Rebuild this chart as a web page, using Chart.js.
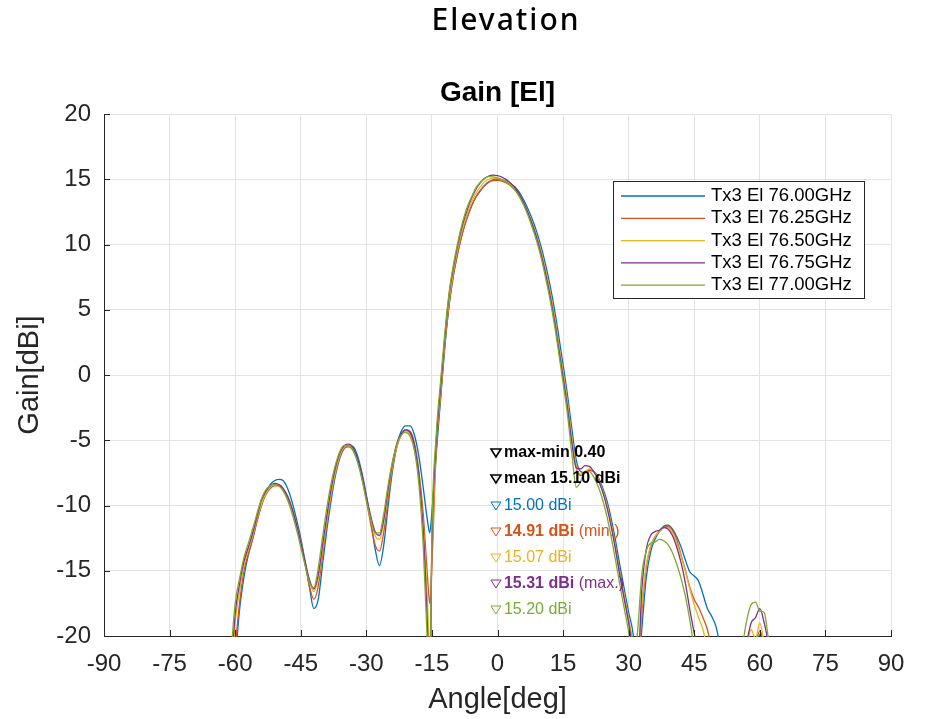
<!DOCTYPE html>
<html>
<head>
<meta charset="utf-8">
<title>Elevation</title>
<script src="https://cdn.jsdelivr.net/npm/chart.js@4.4.1/dist/chart.umd.min.js"></script>
<style>
  html, body { margin: 0; padding: 0; background: #fff; }
</style>
</head>
<body>
<canvas id="gainChart" width="928" height="719"></canvas>
<script>
// measured elevation cut, one array per frequency (null = below the plot)
const angles = [
  -61, -60, -59, -58, -57, -56, -55, -54, -53, -52,
  -51, -50, -49, -48, -47, -46, -45, -44, -43, -42,
  -41, -40, -39, -38, -37, -36, -35, -34, -33, -32,
  -31, -30, -29, -28, -27, -26, -25, -24, -23, -22,
  -21, -20, -19, -18, -17, -16, -15.5,
  -15, -14, -13, -12, -11, -10, -9, -8, -7, -6,
  -5, -4, -3, -2, -1, 0, 1, 2, 3, 4,
  5, 6, 7, 8, 9, 10, 11, 12, 13, 14,
  15, 16, 17, 18, 19, 20, 21, 22, 23, 24,
  25, 26, 27, 28, 29, 30, 31, 32, 33, 34,
  35, 36, 37, 38, 39, 40, 41, 42, 43, 44,
  45, 46, 47, 48, 49, 50, 51, 52, 53, 54,
  55, 56, 57, 58, 59, 60, 61, 62, 63
];

const gain7600 = [
  null, -22.0, -18.0, -15.5, -13.8, -12.6, -11.2, -10.0, -9.0, -8.4,
  -8.1, -8.0, -8.1, -8.7, -9.7, -11.0, -12.5, -14.3, -16.3, -17.9,
  -17.2, -14.5, -11.8, -9.5, -7.6, -6.3, -5.6, -5.4, -5.5, -6.2,
  -7.5, -9.2, -11.2, -13.3, -14.6, -13.0, -10.0, -7.3, -5.4, -4.3,
  -3.9, -3.9, -4.6, -6.2, -8.6, -11.2, -12.1,
  -10.5, -6.0, -1.8, 2.3, 5.5, 7.8, 9.5, 10.9, 12.0, 12.9,
  13.6, 14.1, 14.5, 14.8, 14.95, 15.0, 14.97, 14.85, 14.65, 14.4,
  14.0, 13.4, 12.7, 11.9, 10.95, 9.8, 8.45, 6.9, 5.1, 3.0,
  0.8, -1.5, -4.1, -6.5, -7.4, -7.5, -7.3, -7.4, -7.8, -8.6,
  -9.6, -11.0, -12.7, -14.6, -16.4, -18.2, -19.8, -23.5, -19.5, -15.6,
  -13.6, -12.6, -12.0, -11.6, -11.5, -11.8, -12.4, -13.2, -14.2, -15.1,
  -15.4, -15.8, -16.8, -17.9, -18.5, -19.3, -21.0, null, null, null,
  null, null, null, null, -21.0, -19.9, -21.0, null, null
];

const gain7625 = [
  -26.0, -21.0, -17.5, -15.0, -13.7, -12.5, -11.2, -10.0, -9.2, -8.7,
  -8.5, -8.5, -8.8, -9.4, -10.3, -11.5, -12.9, -14.5, -16.2, -17.2,
  -16.2, -13.8, -11.3, -9.1, -7.4, -6.2, -5.6, -5.5, -5.8, -6.6,
  -7.9, -9.6, -11.4, -13.0, -13.5, -12.0, -9.4, -7.1, -5.5, -4.6,
  -4.2, -4.3, -5.2, -7.3, -10.6, -15.5, -17.5,
  -14.5, -5.7, -1.6, 2.5, 5.6, 7.8, 9.5, 10.9, 12.0, 12.9,
  13.6, 14.1, 14.5, 14.78, 14.9, 14.91, 14.86, 14.72, 14.5, 14.2,
  13.78, 13.15, 12.4, 11.55, 10.55, 9.35, 7.95, 6.35, 4.45, 2.25,
  0.1, -2.2, -4.9, -7.1, -7.7, -7.5, -7.3, -7.4, -7.9, -8.8,
  -9.9, -11.4, -13.2, -15.2, -17.0, -18.8, -20.7, -23.5, -18.3, -14.8,
  -13.2, -12.4, -12.0, -11.7, -11.6, -11.9, -12.6, -13.8, -15.0, -16.3,
  -17.2, -17.8, -18.6, -19.5, -21.0, null, null, null, null, null,
  null, null, null, null, -20.6, -19.6, -20.6, null, null
];

const gain7650 = [
  -24.0, -19.0, -16.6, -14.6, -13.4, -12.3, -11.0, -9.9, -9.1, -8.6,
  -8.4, -8.4, -8.7, -9.3, -10.2, -11.4, -12.8, -14.3, -15.8, -16.6,
  -15.6, -13.4, -11.1, -9.0, -7.3, -6.1, -5.5, -5.4, -5.7, -6.5,
  -7.8, -9.4, -11.0, -12.3, -12.6, -11.3, -9.0, -6.9, -5.4, -4.6,
  -4.3, -4.5, -5.5, -7.8, -11.5, -17.5, -21.5,
  -14.0, -5.3, -1.3, 2.8, 5.9, 8.1, 9.8, 11.2, 12.3, 13.2,
  13.9, 14.4, 14.8, 15.0, 15.07, 15.05, 14.98, 14.82, 14.6, 14.3,
  13.85, 13.2, 12.45, 11.6, 10.6, 9.4, 8.0, 6.4, 4.5, 2.3,
  0.2, -2.1, -4.8, -7.0, -7.6, -7.4, -7.2, -7.4, -7.9, -8.8,
  -9.9, -11.4, -13.2, -15.2, -16.9, -18.7, -20.8, -23.0, -17.8, -14.6,
  -13.1, -12.4, -12.0, -11.7, -11.7, -12.1, -12.9, -13.9, -15.1, -16.4,
  -17.6, -18.6, -19.5, -21.0, null, null, null, null, null, null,
  null, null, -21.0, -19.5, -20.2, -19.0, -20.6, null, null
];

const gain7675 = [
  -23.0, -18.3, -16.0, -14.3, -13.2, -12.1, -10.8, -9.6, -8.9, -8.5,
  -8.3, -8.4, -8.7, -9.3, -10.2, -11.4, -12.8, -14.3, -15.7, -16.4,
  -15.3, -13.0, -10.7, -8.6, -7.0, -5.9, -5.4, -5.3, -5.6, -6.4,
  -7.7, -9.3, -10.8, -12.0, -12.3, -11.0, -8.7, -6.7, -5.2, -4.5,
  -4.2, -4.4, -5.4, -7.7, -11.8, -19.5, -25.0,
  -13.0, -5.0, -0.9, 3.1, 6.3, 8.4, 10.1, 11.5, 12.6, 13.5,
  14.2, 14.7, 15.05, 15.25, 15.31, 15.27, 15.16, 14.97, 14.7, 14.35,
  13.85, 13.2, 12.4, 11.5, 10.45, 9.2, 7.75, 6.1, 4.2, 2.0,
  -0.2, -2.5, -5.2, -7.1, -7.2, -6.95, -7.0, -7.4, -8.0, -8.9,
  -10.1, -11.6, -13.4, -15.4, -17.2, -19.0, -21.2, -23.0, -16.5, -13.4,
  -12.3, -12.0, -11.9, -11.7, -11.8, -12.3, -13.2, -14.4, -16.0, -18.0,
  -19.8, -21.5, null, null, null, null, null, null, null, null,
  null, null, -20.5, -19.0, -18.6, -17.9, -19.0, -20.6, null
];

const gain7700 = [
  -21.5, -17.5, -15.6, -14.0, -12.9, -11.8, -10.6, -9.5, -8.8, -8.5,
  -8.4, -8.5, -8.9, -9.6, -10.6, -11.8, -13.2, -14.6, -15.9, -16.3,
  -14.8, -12.4, -10.1, -8.2, -6.8, -5.8, -5.4, -5.4, -5.8, -6.7,
  -8.0, -9.6, -11.0, -12.1, -12.1, -10.6, -8.4, -6.6, -5.3, -4.6,
  -4.4, -4.7, -5.8, -8.3, -13.0, -21.0, -25.0,
  -12.0, -4.5, -0.4, 3.4, 6.5, 8.6, 10.3, 11.7, 12.8, 13.6,
  14.3, 14.75, 15.05, 15.2, 15.18, 15.1, 14.97, 14.78, 14.5, 14.15,
  13.65, 13.0, 12.2, 11.25, 10.2, 8.95, 7.45, 5.8, 3.9, 1.7,
  -0.6, -3.0, -6.0, -8.6, -8.2, -7.4, -7.4, -7.8, -8.5, -9.5,
  -10.8, -12.4, -14.2, -16.1, -17.9, -19.7, -22.0, -19.8, -15.3, -13.5,
  -12.9, -12.8, -12.6, -12.7, -13.0, -13.6, -14.5, -15.6, -17.0, -18.8,
  -21.0, null, null, null, null, null, null, null, null, null,
  null, -20.8, -18.8, -17.6, -17.4, -18.1, -18.2, -20.3, null
];

const seriesNames = ["Tx3 El 76.00GHz", "Tx3 El 76.25GHz", "Tx3 El 76.50GHz", "Tx3 El 76.75GHz", "Tx3 El 77.00GHz"];
const seriesGains = [gain7600, gain7625, gain7650, gain7675, gain7700];
const seriesColors = ["#0072BD", "#D95319", "#EDB120", "#7E2F8E", "#77AC30"];
// boresight gain per frequency (the marker readouts)
const peakGains = [15.00, 14.91, 15.07, 15.31, 15.20];

const xTicks = [-90, 90, 15];
const yTicks = [-20, 20, 5];

const FONT = '"Liberation Sans", Arial, sans-serif';
const AXIS = "#262626";

// marker readout text
const gMax = Math.max(...peakGains);
const gMin = Math.min(...peakGains);
const gMean = peakGains.reduce((a, b) => a + b, 0) / peakGains.length;
const markerRows = [
    { color: "#000", parts: [{ text: "max-min " + (gMax - gMin).toFixed(2), bold: true }] },
    { color: "#000", parts: [{ text: "mean " + gMean.toFixed(2) + " dBi", bold: true }] }
];
peakGains.forEach((g, i) => {
    const parts = [{ text: g.toFixed(2) + " dBi", bold: g === gMin || g === gMax }];
    if (g === gMin) parts.push({ text: " (min.)", bold: false });
    if (g === gMax) parts.push({ text: " (max.)", bold: false });
    markerRows.push({ color: seriesColors[i], parts: parts });
});

const overlay = {
    id: "overlay",
    afterDraw(chart) {
        const ctx = chart.ctx;
        const area = chart.chartArea;
        const xs = chart.scales.x, ys = chart.scales.y;
        ctx.save();

        // inward ticks like matlab
        ctx.strokeStyle = AXIS;
        ctx.lineWidth = 1;
        ctx.beginPath();
        xs.ticks.forEach(t => {
            const px = Math.round(xs.getPixelForValue(t.value)) + 0.5;
            ctx.moveTo(px, area.bottom);
            ctx.lineTo(px, area.bottom - 6);
        });
        ys.ticks.forEach(t => {
            const py = Math.round(ys.getPixelForValue(t.value)) + 0.5;
            ctx.moveTo(area.left, py);
            ctx.lineTo(area.left + 6, py);
        });
        ctx.stroke();

        // titles
        ctx.textAlign = "center";
        ctx.textBaseline = "middle";
        ctx.fillStyle = "#000";
        ctx.font = '500 30px "Noto Sans", sans-serif';
        ctx.letterSpacing = "2px";
        ctx.fillText("Elevation", 506, 21);
        ctx.letterSpacing = "0px";
        ctx.font = "bold 28px " + FONT;
        ctx.fillText("Gain [El]", (area.left + area.right) / 2, 93);

        ctx.fillStyle = AXIS;
        ctx.font = "29px " + FONT;
        ctx.fillText("Angle[deg]", (area.left + area.right) / 2, 700);
        ctx.save();
        ctx.translate(30, (area.top + area.bottom) / 2);
        ctx.rotate(-Math.PI / 2);
        ctx.fillText("Gain[dBi]", 0, 0);
        ctx.restore();

        // marker readouts
        const mx = xs.getPixelForValue(-1.5);
        ctx.textAlign = "left";
        markerRows.forEach((row, k) => {
            const cy = Math.round(ys.getPixelForValue(-6 - 2 * k));
            ctx.strokeStyle = row.color;
            ctx.lineWidth = row.color === "#000" ? 1.6 : 1;
            ctx.beginPath();
            ctx.moveTo(mx, cy - 4);
            ctx.lineTo(mx + 10, cy - 4);
            ctx.lineTo(mx + 5, cy + 4);
            ctx.closePath();
            ctx.stroke();
            let tx = mx + 13;
            ctx.fillStyle = row.color;
            row.parts.forEach(p => {
                ctx.font = (p.bold ? "bold " : "") + "16px " + FONT;
                ctx.fillText(p.text, tx, cy);
                tx += ctx.measureText(p.text).width;
            });
        });

        // legend box
        const bw = 251, bh = 117;
        const lx = area.right - 27 - bw, ly = area.top + 67;
        ctx.fillStyle = "#fff";
        ctx.fillRect(lx, ly, bw, bh);
        ctx.strokeStyle = AXIS;
        ctx.lineWidth = 1;
        ctx.strokeRect(lx + 0.5, ly + 0.5, bw, bh);
        chart.data.datasets.forEach((ds, i) => {
            const cy = ly + 15 + i * 22.3;
            ctx.strokeStyle = ds.borderColor;
            ctx.lineWidth = 1.3;
            ctx.beginPath();
            ctx.moveTo(lx + 8, cy);
            ctx.lineTo(lx + 92, cy);
            ctx.stroke();
            ctx.fillStyle = "#000";
            ctx.font = "18.5px " + FONT;
            ctx.fillText(ds.label, lx + 98, cy);
        });

        ctx.restore();
    }
};

const ctx = document.getElementById("gainChart").getContext("2d");
new Chart(ctx, {
    type: "line",
    data: {
        datasets: seriesNames.map((name, i) => ({
            label: name,
            data: angles.map((a, k) => ({ x: a, y: seriesGains[i][k] })),
            borderColor: seriesColors[i],
            backgroundColor: seriesColors[i],
            borderWidth: 1.3,
            pointRadius: 0,
            fill: false,
            spanGaps: false,
            cubicInterpolationMode: "monotone",
            order: seriesNames.length - i,
            clip: 1
        }))
    },
    options: {
        responsive: false,
        animation: false,
        layout: { padding: { top: 114, right: 37, bottom: 0, left: 0 } },
        plugins: {
            legend: { display: false },
            tooltip: { enabled: false }
        },
        scales: {
            x: {
                type: "linear",
                min: xTicks[0],
                max: xTicks[1],
                ticks: {
                    stepSize: xTicks[2],
                    color: AXIS,
                    font: { family: FONT, size: 24 },
                    padding: 14,
                    maxRotation: 0,
                    autoSkip: false
                },
                grid: { color: "#e3e3e3", drawTicks: false, tickLength: 0 },
                border: { color: AXIS, width: 1 },
                afterFit: s => { s.height = 83; }
            },
            y: {
                min: yTicks[0],
                max: yTicks[1],
                ticks: {
                    stepSize: yTicks[2],
                    color: AXIS,
                    font: { family: FONT, size: 24 },
                    padding: 13
                },
                grid: { color: "#e3e3e3", drawTicks: false, tickLength: 0 },
                border: { color: AXIS, width: 1 },
                afterFit: s => { s.width = 104; }
            }
        }
    },
    plugins: [overlay]
});
</script>
</body>
</html>
